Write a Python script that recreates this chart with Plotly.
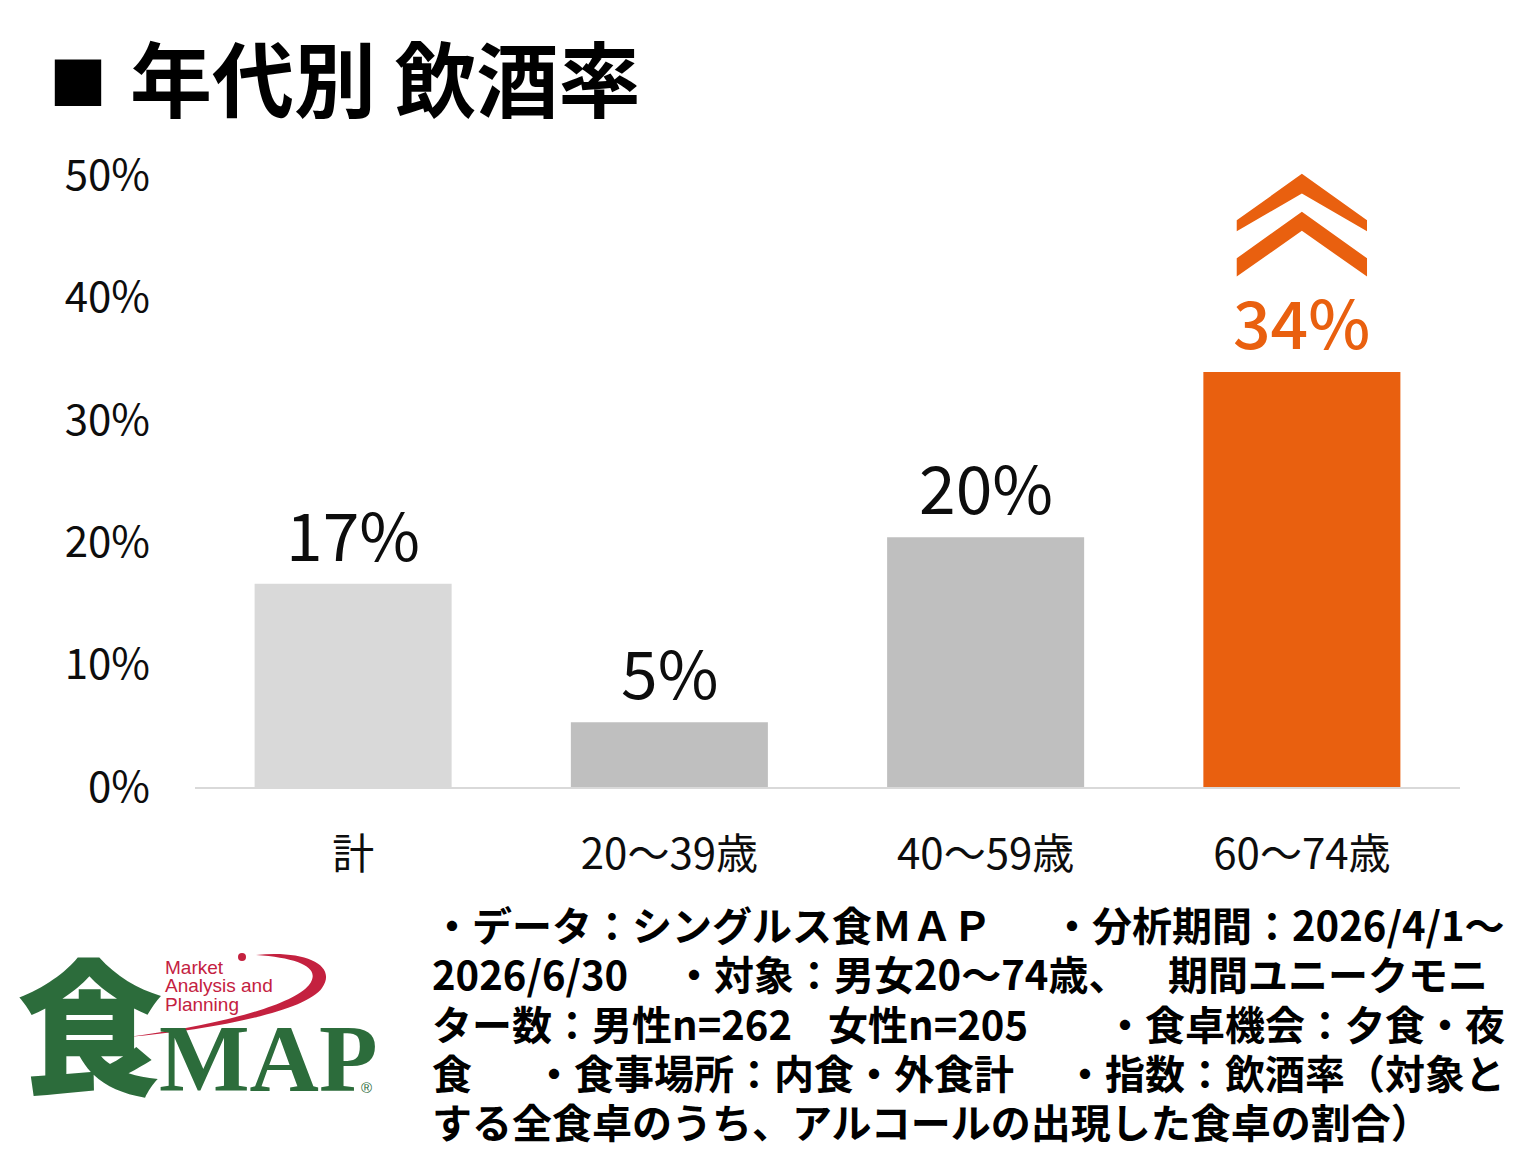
import plotly.graph_objects as go

# Data
categories = ["計", "20～39歳", "40～59歳", "60～74歳"]
rates = [16.6, 5.3, 20.4, 33.9]
y_ticks = [0, 10, 20, 30, 40, 50]

# footnote, one row per printed line, split into (anchor, x, text) pieces
note_rows = [
    [("left", 430, "・データ：シングルス食ＭＡＰ"), ("right", 1507, "・分析期間：2026/4/1～")],
    [("left", 430, "2026/6/30"), ("left", 672, "・対象：男女20～74歳、"), ("right", 1490, "期間ユニークモニ")],
    [("left", 430, "ター数：男性n=262"), ("left", 826, "女性n=205"), ("right", 1507, "・食卓機会：夕食・夜")],
    [("left", 430, "食"), ("left", 532, "・食事場所：内食・外食計"), ("right", 1507, "・指数：飲酒率（対象と")],
    [("left", 430, "する全食卓のうち、アルコールの出現した食卓の割合）")],
]

W, H = 1532, 1168
OFF = 8  # page body margin
bar_colors = ["#d9d9d9", "#bfbfbf", "#bfbfbf", "#e9600f"]
label_colors = ["#0d0d0d", "#0d0d0d", "#0d0d0d", "#e9600f"]
JP = "Noto Sans CJK JP"
GREEN = "#2c6c3b"
RED = "#c4213f"


def px(x):
    return (x - OFF) / W


def py(y):
    return 1 - (y - OFF) / H


fig = go.Figure()

fig.add_trace(go.Bar(
    x=categories,
    y=rates,
    marker=dict(color=bar_colors, line=dict(width=0)),
    showlegend=False,
    hoverinfo="skip",
))

# value labels above each bar
for cat, v, c in zip(categories, rates, label_colors):
    fig.add_annotation(
        x=cat, y=v, text=f"{round(v)}%",
        xref="x", yref="y", showarrow=False,
        yanchor="bottom", yshift=2,
        font=dict(family=JP, size=66, color=c, weight=500 if c == "#e9600f" else 400),
    )

# double chevron above the highlighted bar (category index 3)
hw = 0.206
for top, inner, tip_top, tip_bot in [(50.1, 48.5, 46.3, 45.4), (47.0, 45.45, 43.2, 41.7)]:
    fig.add_shape(
        type="path",
        xref="x", yref="y",
        path=(f"M {3 - hw},{tip_top} L 3,{top} L {3 + hw},{tip_top} "
              f"L {3 + hw},{tip_bot} L 3,{inner} L {3 - hw},{tip_bot} Z"),
        fillcolor="#e9600f", line=dict(width=0), layer="above",
    )

# title
fig.add_annotation(
    x=px(78), y=py(80), xref="paper", yref="paper", text="■",
    showarrow=False, xanchor="center", yanchor="middle",
    font=dict(family=JP, size=58, color="#000000", weight="bold"),
)
fig.add_annotation(
    x=px(128), y=py(75), xref="paper", yref="paper", text="年代別 飲酒率",
    showarrow=False, xanchor="left", yanchor="middle",
    font=dict(family=JP, size=82, color="#000000", weight="bold"),
)

# footnote
for i, row in enumerate(note_rows):
    for anchor, x, t in row:
        fig.add_annotation(
            x=px(x), y=py(924 + i * 49.3), xref="paper", yref="paper", text=t,
            showarrow=False, xanchor=anchor, yanchor="middle",
            font=dict(family=JP, size=40, color="#000000", weight="bold"),
        )


# logo
def path_px(pts):
    out = []
    for cmd, coords in pts:
        s = " ".join(f"{px(a):.5f},{py(b):.5f}" for a, b in coords)
        out.append(f"{cmd} {s}")
    return " ".join(out) + " Z"


arc = path_px([
    ("M", [(256, 955)]),
    ("C", [(305, 950), (338, 965), (322, 988)]),
    ("C", [(305, 1012), (210, 1030), (128, 1037)]),
    ("C", [(205, 1027), (290, 1008), (309, 985)]),
    ("C", [(322, 968), (300, 958), (256, 955)]),
])
fig.add_shape(type="path", xref="paper", yref="paper", path=arc,
              fillcolor=RED, line=dict(width=0), layer="below")
fig.add_shape(type="circle", xref="paper", yref="paper",
              x0=px(238), x1=px(246), y0=py(961), y1=py(953),
              fillcolor=RED, line=dict(width=0))
fig.add_annotation(
    x=px(90), y=py(1019), xref="paper", yref="paper", text="食", showarrow=False,
    xanchor="center", yanchor="middle",
    font=dict(family=JP, size=146, color=GREEN, weight=900),
)
fig.add_annotation(
    x=px(157), y=py(1058), xref="paper", yref="paper", text="MAP", showarrow=False,
    xanchor="left", yanchor="middle",
    font=dict(family="Liberation Serif", size=96, color=GREEN, weight="bold"),
)
fig.add_annotation(
    x=px(366), y=py(1087), xref="paper", yref="paper", text="®", showarrow=False,
    xanchor="center", yanchor="middle",
    font=dict(family="Liberation Sans", size=15, color=GREEN),
)
for i, t in enumerate(["Market", "Analysis and", "Planning"]):
    fig.add_annotation(
        x=px(163), y=py(967 + i * 18.5), xref="paper", yref="paper", text=t,
        showarrow=False, xanchor="left", yanchor="middle",
        font=dict(family="Liberation Sans", size=19, color=RED),
    )

fig.update_layout(
    width=W, height=H,
    margin=dict(l=0, r=0, t=0, b=0),
    plot_bgcolor="white", paper_bgcolor="white",
    bargap=0.377,
    xaxis=dict(
        domain=[px(195), px(1460)],
        showgrid=False, showline=True, linecolor="#d9d9d9", linewidth=2,
        ticks="", tickfont=dict(family=JP, size=42, color="#0d0d0d"),
        ticklabelstandoff=30, fixedrange=True, automargin=False,
    ),
    yaxis=dict(
        domain=[py(787), py(162.8)],
        range=[0, 51], tickvals=y_ticks,
        ticktext=[f"{v}%" for v in y_ticks],
        showgrid=False, zeroline=False, showline=False,
        tickfont=dict(family=JP, size=42, color="#0d0d0d"),
        ticklabelstandoff=44, fixedrange=True, automargin=False,
    ),
)

fig.write_html("out.html")
